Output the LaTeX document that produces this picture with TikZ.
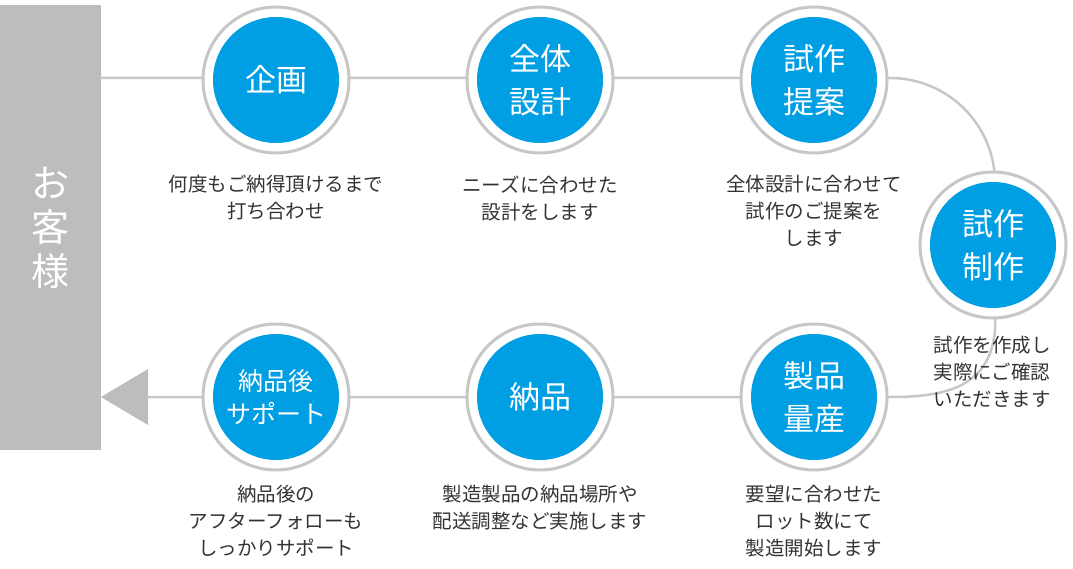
\documentclass[tikz,border=0pt]{standalone}
\usepackage{fontspec}
\setmainfont{Noto Sans CJK JP}
\usetikzlibrary{calc}
\definecolor{stepblue}{rgb}{0.0,0.62,0.89}
\definecolor{ringgray}{rgb}{0.78,0.78,0.78}
\definecolor{bargray}{rgb}{0.74,0.74,0.74}
\definecolor{textgray}{rgb}{0.2,0.2,0.2}
\tikzset{
  ring/.style={circle,draw=ringgray,line width=3pt,fill=white,minimum size=146pt,inner sep=0pt},
  core/.style={circle,fill=stepblue,minimum size=126pt,inner sep=0pt,text=white,
    font=\fontsize{31}{43}\selectfont,align=center},
  caption/.style={text=textgray,font=\fontsize{19.5}{27}\selectfont,align=center},
  path/.style={draw=ringgray,line width=2.5pt}
}
\begin{document}
\begin{tikzpicture}[x=1pt,y=-1pt,line cap=round,line join=round]
            \useasboundingbox (0,0) rectangle (1073,569);
            % customer bar
            \fill[bargray] (0,5) rectangle (101,450);
            \node[text=white,font=\fontsize{38}{44}\selectfont,align=center] (cust) at (50,228) {お\\客\\様};
            \coordinate (tip) at (101,397);
            \fill[bargray] (tip) -- (148,369) -- (148,425) -- cycle;
            % connecting lines
            \coordinate (topin) at (101,78);
            \coordinate (botout) at (148,397);
            \draw[path] (topin) -- (814,78) -- (890,78) arc (-90:0:105) -- (995,175);
            \draw[path] (995,315) -- (995,330) .. controls (990,390) and (940,397) .. (890,397) -- (botout);
            % steps
            \foreach \name/\x/\y/\txt in {plan/276/80/企画, design/540/80/全体\\設計, offer/814/80/試作\\提案,
                make/993/245/試作\\制作, mass/814/397/製品\\量産, deliver/540/397/納品,
                support/276/397/{}}{
              \node[ring] (\name) at (\x,\y) {};
              \node[core] (\name c) at (\x,\y) {\txt};
            }
            \node[text=white,align=center,font=\fontsize{25}{33}\selectfont] (supportl) at (support) {納品後\\サポート};
            % captions
            \node[caption,anchor=north] (plant) at (276,172) {何度もご納得頂けるまで\\打ち合わせ};
            \node[caption,anchor=north] (designt) at (540,172) {ニーズに合わせた\\設計をします};
            \node[caption,anchor=north] (offert) at (814,172) {全体設計に合わせて\\試作のご提案を\\します};
            \node[caption,anchor=north] (maket) at (992,333) {試作を作成し\\実際にご確認\\いただきます};
            \node[caption,anchor=north] (masst) at (814,482) {要望に合わせた\\ロット数にて\\製造開始します};
            \node[caption,anchor=north] (delivert) at (540,482) {製造製品の納品場所や\\配送調整など実施します};
            \node[caption,anchor=north] (supportt) at (276,482) {納品後の\\アフターフォローも\\しっかりサポート};
        \end{tikzpicture}
\end{document}
